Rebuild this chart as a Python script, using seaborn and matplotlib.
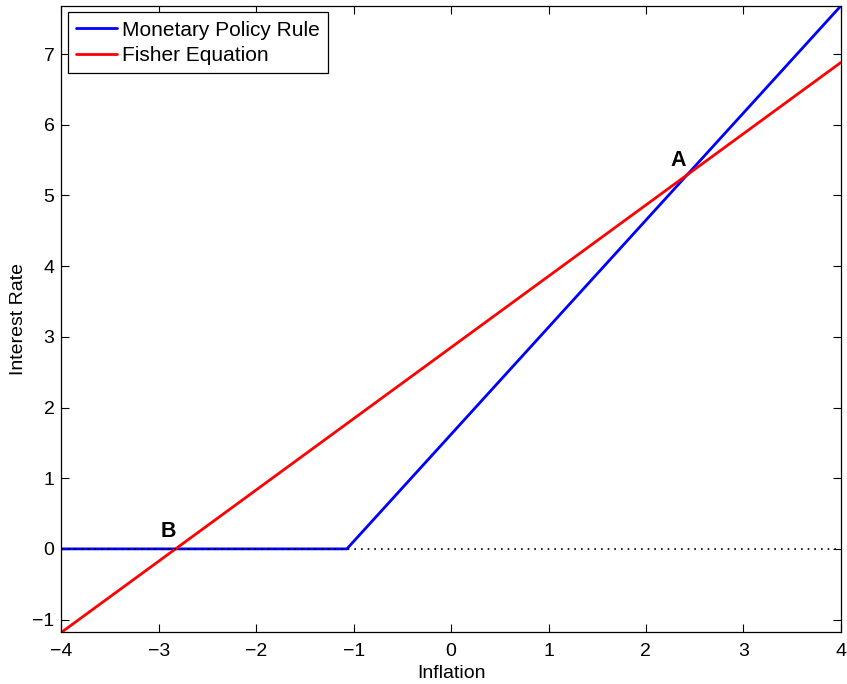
import numpy as np
import pandas as pd
import seaborn as sns
import matplotlib.pyplot as plt

# data
policy_x = [-4.0, -1.07, 4.0]
policy_y = [0.0, 0.0, 7.68]
fisher_x = [-4.0, 4.0]
fisher_y = [-1.18, 6.88]
zero_x = [-4.0, 4.0]
zero_y = [0.0, 0.0]
xticks = [-4, -3, -2, -1, 0, 1, 2, 3, 4]
yticks = [-1, 0, 1, 2, 3, 4, 5, 6, 7]

sns.set_style("ticks")
plt.rcParams['font.family'] = ['Liberation Sans', 'DejaVu Sans']
plt.rcParams['axes.unicode_minus'] = True
plt.rcParams['text.color'] = 'black'
plt.rcParams['axes.labelcolor'] = 'black'
plt.rcParams['xtick.color'] = 'black'
plt.rcParams['ytick.color'] = 'black'

fig = plt.figure(figsize=(8.47, 6.84), dpi=100)
ax = fig.add_axes([0.0726, 0.0756, 0.92, 0.9156])

sns.lineplot(x=policy_x, y=policy_y, color='#0000ff', lw=2, ax=ax, label='Monetary Policy Rule')
sns.lineplot(x=fisher_x, y=fisher_y, color='#ff0000', lw=2, ax=ax, label='Fisher Equation')
ax.plot(zero_x, zero_y, color='black', lw=1.2, ls=(0, (1, 3)))

ax.set_xlim(-4, 4)
ax.set_ylim(-1.18, 7.68)
ax.set_xticks(xticks)
ax.set_yticks(yticks)
ax.tick_params(direction='in', length=6, width=0.8, top=True, right=True, labelsize=14)
ax.tick_params(axis='x', pad=8)
ax.tick_params(axis='y', pad=5)
for s in ax.spines.values():
    s.set_visible(True)
    s.set_linewidth(0.9)
    s.set_color('black')

ax.set_xlabel('Inflation', fontsize=14, labelpad=3)
ax.set_ylabel('Interest Rate', fontsize=14, labelpad=4)

ax.text(2.33, 5.5, 'A', fontsize=15.5, fontweight='bold', ha='center', va='center')
ax.text(-2.9, 0.24, 'B', fontsize=15.5, fontweight='bold', ha='center', va='center')

leg = ax.legend(loc='upper left', fontsize=15, frameon=True, fancybox=False, edgecolor='black',
                borderaxespad=0.3, handlelength=1.95, handletextpad=0.25, borderpad=0.4, labelspacing=0.3)
leg.get_frame().set_linewidth(0.9)
leg.get_frame().set_alpha(1)

fig.savefig('out.png', dpi=100)
